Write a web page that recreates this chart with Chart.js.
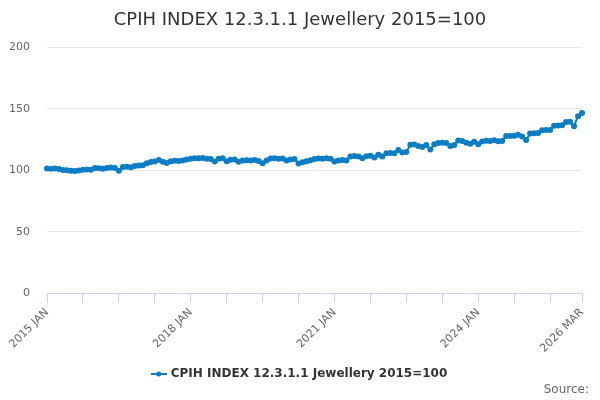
<!DOCTYPE html>
<html>
<head>
<meta charset="utf-8">
<script src="https://cdn.jsdelivr.net/npm/chart.js@4.4.1/dist/chart.umd.min.js"></script>
<style>
body { margin: 0; background: #fff; }
#wrap { width: 600px; height: 400px; position: relative; }
</style>
</head>
<body>
<div id="wrap"><canvas id="myChart"></canvas></div>
<script>
var seriesName = 'CPIH INDEX 12.3.1.1 Jewellery 2015=100'
var monthNames = ['JAN','FEB','MAR','APR','MAY','JUN','JUL','AUG','SEP','OCT','NOV','DEC']
var years = [2015,2016,2017,2018,2019,2020,2021,2022,2023,2024,2025,2026]
var tickLabels = ['2015 JAN','2018 JAN','2021 JAN','2024 JAN','2026 MAR']
var yTicks = [0, 50, 100, 150, 200]

// index values, one array per year
var v2015 = [101.4,101.3,101.5,101.0,100.3,100.0,99.6,99.5,99.9,100.4,100.6,100.5]
var v2016 = [101.8,101.6,101.2,101.9,102.2,101.9,99.7,102.6,102.9,102.5,103.5,103.9]
var v2017 = [104.2,105.8,106.8,107.2,108.4,107.0,106.0,107.4,107.8,107.6,108.0,108.8]
var v2018 = [109.4,109.9,109.8,110.0,109.5,109.2,107.2,109.4,109.8,107.3,108.6,108.8]
var v2019 = [107.0,108.0,108.2,108.0,108.4,107.6,105.7,108.0,109.6,109.9,109.5,109.7]
var v2020 = [108.0,108.8,109.2,105.6,106.5,107.3,108.2,109.3,109.7,109.5,109.8,109.4]
var v2021 = [107.2,108.0,108.3,107.9,111.2,111.7,111.2,109.9,111.4,111.8,110.5,112.6]
var v2022 = [111.2,113.8,114.0,113.9,116.6,114.6,115.0,120.8,121.0,119.8,119.0,120.6]
var v2023 = [117.0,121.2,122.3,122.5,122.3,119.8,120.6,124.3,123.9,122.4,121.7,123.2]
var v2024 = [121.3,123.4,124.0,123.9,124.5,123.6,123.9,127.9,128.0,128.1,128.9,127.5]
var v2025 = [124.7,129.9,130.2,130.4,132.6,132.8,132.9,136.4,136.6,136.8,139.4,139.6]
var v2026 = [136.0,144.1,146.8]

var values = [].concat(v2015,v2016,v2017,v2018,v2019,v2020,v2021,v2022,v2023,v2024,v2025,v2026)

var labels = []
years.forEach(y=>{
    monthNames.forEach(m=>{
        labels.push(y + ' ' + m)
    })
})
labels = labels.slice(0, values.length)

var lineColor = '#0b7dc4'
var font = 'DejaVu Sans'

// little line+dot icon for the legend
var legendIcon = document.createElement('canvas')
legendIcon.width = 16
legendIcon.height = 10
var ic = legendIcon.getContext('2d')
ic.strokeStyle = lineColor
ic.lineWidth = 2
ic.beginPath(); ic.moveTo(0,5); ic.lineTo(16,5); ic.stroke()
ic.fillStyle = lineColor
ic.beginPath(); ic.arc(8,5,2.5,0,Math.PI*2); ic.fill()

const background = {
    id: 'bg',
    beforeDraw: (chart) => {
        const ctx = chart.ctx
        ctx.save()
        ctx.globalCompositeOperation = 'destination-over'
        ctx.fillStyle = '#fff'
        ctx.fillRect(0, 0, chart.width, chart.height)
        ctx.restore()
    }
}

const sourceText = {
    id: 'source',
    afterDraw: (chart) => {
        const ctx = chart.ctx
        ctx.save()
        ctx.font = '12px "' + font + '"'
        ctx.fillStyle = '#666'
        ctx.textAlign = 'right'
        ctx.textBaseline = 'middle'
        ctx.fillText('Source:', 589, 390)
        ctx.restore()
    }
}

const config = {
    type: 'line',
    data: {
        labels: labels,
        datasets: [{
            label: seriesName,
            data: values,
            borderColor: lineColor,
            backgroundColor: lineColor,
            borderWidth: 2,
            pointRadius: 2,
            pointHoverRadius: 3,
            tension: 0
        }]
    },
    options: {
        responsive: true,
        maintainAspectRatio: false,
        animation: false,
        layout: { padding: { left: 0, right: 0, top: 0, bottom: 10 } },
        plugins: {
            title: {
                display: true,
                text: seriesName,
                color: '#333',
                font: { family: font, size: 18, weight: 'normal' },
                padding: { top: 10, bottom: 16 }
            },
            legend: {
                position: 'bottom',
                labels: {
                    usePointStyle: true,
                    pointStyle: legendIcon,
                    color: '#333',
                    font: { family: font, size: 12, weight: 'bold' },
                    padding: 8
                }
            },
            tooltip: { enabled: false }
        },
        scales: {
            x: {
                grid: {
                    drawOnChartArea: false,
                    tickLength: 10,
                    color: c => (c.index % 9 === 0 || c.index === values.length - 1) ? '#ccd6eb' : 'rgba(0,0,0,0)'
                },
                border: { color: '#ccd6eb' },
                ticks: {
                    autoSkip: false,
                    maxRotation: 45,
                    minRotation: 45,
                    color: '#666',
                    font: { family: font, size: 11 },
                    callback: function(val, idx){
                        return tickLabels.includes(labels[idx]) ? labels[idx] : ''
                    }
                },
                afterFit: s => { s.height = 67 }
            },
            y: {
                min: 0,
                max: 200,
                afterBuildTicks: s => { s.ticks = yTicks.map(v => ({ value: v })) },
                grid: { color: '#e6e6e6', drawTicks: false },
                border: { display: false },
                ticks: {
                    color: '#666',
                    font: { family: font, size: 11 },
                    padding: 17
                },
                afterFit: s => { s.width = 47 }
            },
            // empty right-hand gutter so the plot stops short of the edge
            gutter: {
                type: 'linear',
                position: 'right',
                grid: { display: false },
                border: { display: false },
                ticks: { display: false },
                afterFit: s => { s.width = 18 }
            }
        }
    },
    plugins: [background, sourceText]
}

const myChart = new Chart(document.getElementById('myChart'), config)
</script>
</body>
</html>
